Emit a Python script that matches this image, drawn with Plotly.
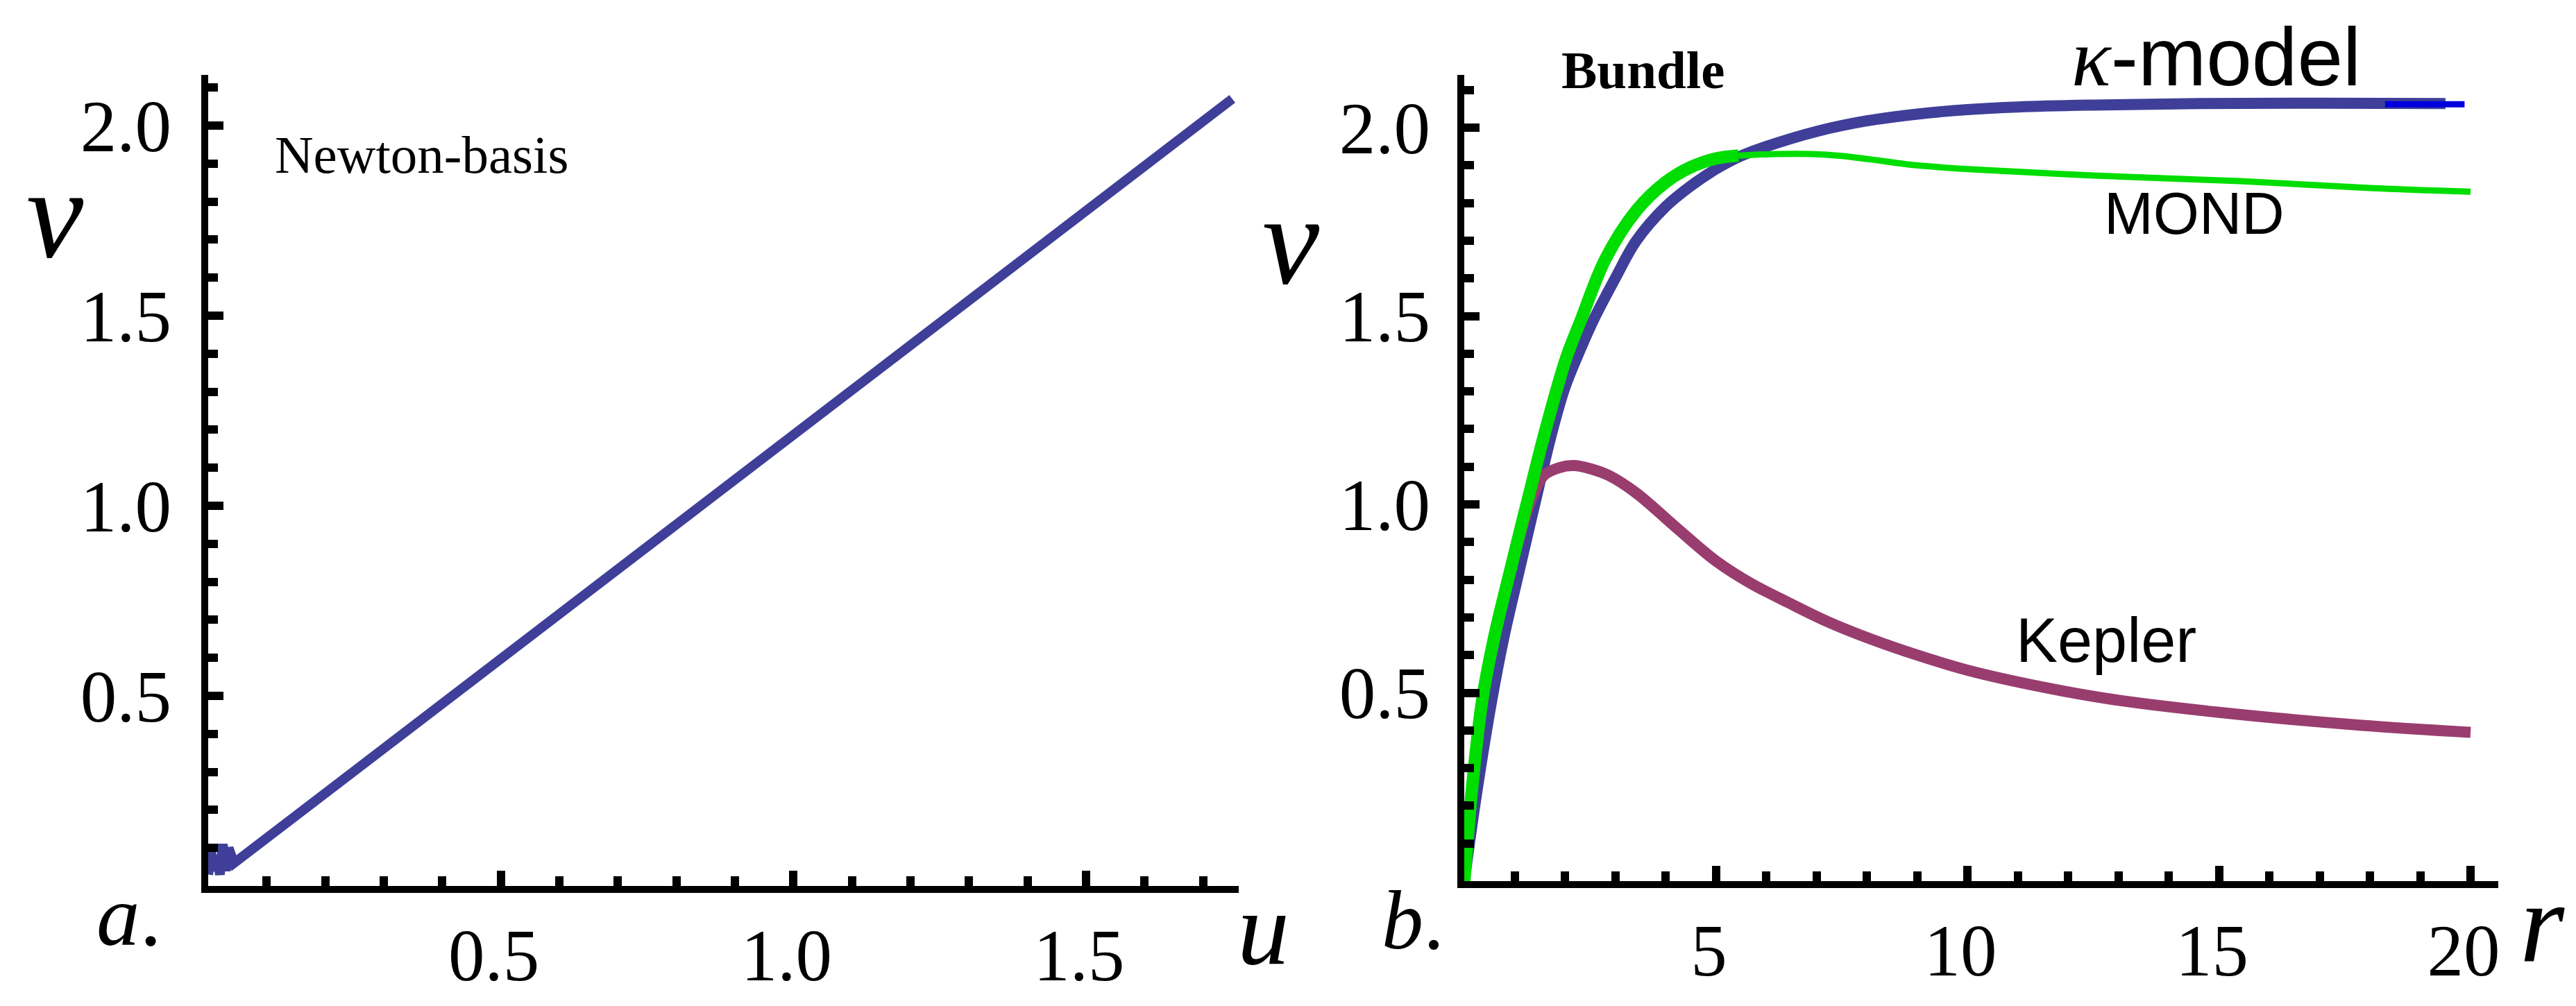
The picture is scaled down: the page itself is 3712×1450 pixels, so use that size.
import plotly.graph_objects as go

W, H = 3712, 1450

# ---------------- data ----------------
# panel a: Newton-basis
u_newton = [0.0, 0.005, 0.010, 0.015, 0.020, 0.025, 0.030, 0.035, 0.044, 1.750]
v_newton = [0.03, 0.09, 0.04, 0.08, 0.03, 0.11, 0.04, 0.10, 0.06, 2.07]

# panel b: Bundle
r_kappa = [0, 0.25, 0.55, 0.8, 1.05, 1.4, 1.74, 2.0, 2.27, 2.57, 3.0, 3.42, 4.0, 4.5, 5.0,
           5.5, 6.0, 7.0, 8.0, 9.0, 10.0, 11.0, 12.5, 14.6, 17.0, 19.5]
v_kappa = [0, 0.237, 0.483, 0.655, 0.80, 1.0, 1.19, 1.31, 1.40, 1.49, 1.60, 1.70, 1.79, 1.845, 1.89,
           1.925, 1.95, 1.99, 2.018, 2.036, 2.048, 2.055, 2.06, 2.064, 2.065, 2.064]
r_kappa_end = [18.3, 19.88]
v_kappa_end = [2.062, 2.062]

r_mond = [0, 0.15, 0.36, 0.6, 0.85, 1.24, 1.62, 2.03, 2.32, 2.8, 3.42, 4.0, 4.5, 5.0, 5.45,
          6.2, 6.9, 7.5, 8.06, 9.0, 10.0, 12.5, 15.4, 18.0, 20.0]
v_mond = [0, 0.24, 0.483, 0.65, 0.79, 1.0, 1.20, 1.39, 1.49, 1.65, 1.78, 1.855, 1.895, 1.918, 1.926,
          1.93, 1.93, 1.925, 1.916, 1.90, 1.89, 1.873, 1.858, 1.84, 1.83]
mond_thick_n = 15  # points of the heavier rising segment

r_kepler = [0, 0.15, 0.36, 0.6, 0.85, 1.2, 1.35, 1.58, 1.9, 2.18, 2.5, 2.87, 3.42, 4.2, 5.0,
            5.7, 6.43, 7.2, 8.05, 9.0, 10.0, 11.5, 12.9, 15.0, 17.8, 20.0]
v_kepler = [0, 0.24, 0.48, 0.65, 0.79, 0.96, 1.02, 1.077, 1.098, 1.103, 1.095, 1.077, 1.03, 0.94, 0.85,
            0.79, 0.74, 0.69, 0.644, 0.60, 0.56, 0.515, 0.482, 0.448, 0.414, 0.395]

x_ticks_a = [0.5, 1.0, 1.5]
x_labels_a = ["0.5", "1.0", "1.5"]
y_ticks = [0.5, 1.0, 1.5, 2.0]
y_labels = ["0.5", "1.0", "1.5", "2.0"]
x_ticks_b = [5, 10, 15, 20]
x_labels_b = ["5", "10", "15", "20"]

NAVY = "#3f3f99"
GREEN = "#00dd00"
PURPLE = "#993d6f"
BLUE = "#0000dd"

def px(x):
    return x / W

def py(y):
    return 1 - y / H

fig = go.Figure()

fig.add_trace(go.Scatter(x=u_newton, y=v_newton, mode="lines",
                         line=dict(color=NAVY, width=14), xaxis="x", yaxis="y"))

smooth = dict(shape="spline", smoothing=1.0)
fig.add_trace(go.Scatter(x=r_kappa, y=v_kappa, mode="lines",
                         line=dict(color=NAVY, width=16, **smooth),
                         xaxis="x2", yaxis="y2"))
fig.add_trace(go.Scatter(x=r_kappa_end, y=v_kappa_end, mode="lines",
                         line=dict(color=BLUE, width=9), xaxis="x2", yaxis="y2"))
fig.add_trace(go.Scatter(x=r_kepler, y=v_kepler, mode="lines",
                         line=dict(color=PURPLE, width=16, **smooth),
                         xaxis="x2", yaxis="y2"))
fig.add_trace(go.Scatter(x=r_mond[mond_thick_n - 1:], y=v_mond[mond_thick_n - 1:], mode="lines",
                         line=dict(color=GREEN, width=9, **smooth),
                         xaxis="x2", yaxis="y2"))
fig.add_trace(go.Scatter(x=r_mond[:mond_thick_n], y=v_mond[:mond_thick_n], mode="lines",
                         line=dict(color=GREEN, width=18, **smooth),
                         xaxis="x2", yaxis="y2"))

tickfont = dict(family="Liberation Serif, Times New Roman, serif", size=105, color="black")

def axis_common(**kw):
    d = dict(showline=True, linewidth=10, linecolor="black", mirror=False,
             showgrid=False, zeroline=False, ticks="inside", ticklen=22, tickwidth=12,
             tickcolor="black", tickfont=tickfont, automargin=False, fixedrange=True)
    d.update(kw)
    return d

def minor(dt):
    return dict(ticks="inside", dtick=dt, tick0=0, ticklen=14, tickwidth=12, tickcolor="black")

fig.update_layout(
    width=W, height=H, margin=dict(l=0, r=0, t=0, b=0),
    paper_bgcolor="white", plot_bgcolor="white", showlegend=False,
    xaxis=axis_common(domain=[px(292), px(1777)], range=[0, 1.761], anchor="y",
                      tickmode="array", tickvals=x_ticks_a, ticktext=x_labels_a,
                      ticklabelstandoff=0, ticklabelshift=-10, minor=minor(0.1)),
    yaxis=axis_common(domain=[py(1269), py(100)], range=[0, 2.133], anchor="x",
                      tickmode="array", tickvals=y_ticks, ticktext=y_labels,
                      ticklabelstandoff=22, minor=minor(0.1)),
    xaxis2=axis_common(domain=[px(2102), px(3592)], range=[0, 20.55], anchor="y2",
                       tickmode="array", tickvals=x_ticks_b, ticktext=x_labels_b,
                       ticklabelstandoff=0, ticklabelshift=-10, minor=minor(1)),
    yaxis2=axis_common(domain=[py(1262), py(100)], range=[0, 2.14], anchor="x2",
                       tickmode="array", tickvals=y_ticks, ticktext=y_labels,
                       ticklabelstandoff=18, minor=minor(0.1)),
)

serif = "Liberation Serif, Times New Roman, serif"
sans = "Liberation Sans, Arial, sans-serif"

def note(text, x, y, size, family, xanchor="center"):
    fig.add_annotation(text=text, x=px(x), y=py(y), xref="paper", yref="paper",
                       xanchor=xanchor, yanchor="middle", showarrow=False,
                       font=dict(family=family, size=size, color="black"))

note("Newton-basis", 599, 215, 77, serif)
note("<b>Bundle</b>", 2359, 93, 77, serif)
note("<span style='font-family:Liberation Serif'><i>κ</i></span>-model", 3185, 75, 118, sans)
note("MOND", 3154, 300, 85, sans)
note("Kepler", 3027, 915, 90, sans)
note("<i>v</i>", 71, 300, 185, serif)
note("<i>v</i>", 1852, 338, 185, serif)
note("<i>u</i>", 1812, 1330, 150, serif)
note("<i>r</i>", 3655, 1322, 165, serif)
note("<i>a</i>.", 178, 1312, 125, serif)
note("<i>b</i>.", 2028, 1318, 120, serif)

fig.write_html("out.html")
